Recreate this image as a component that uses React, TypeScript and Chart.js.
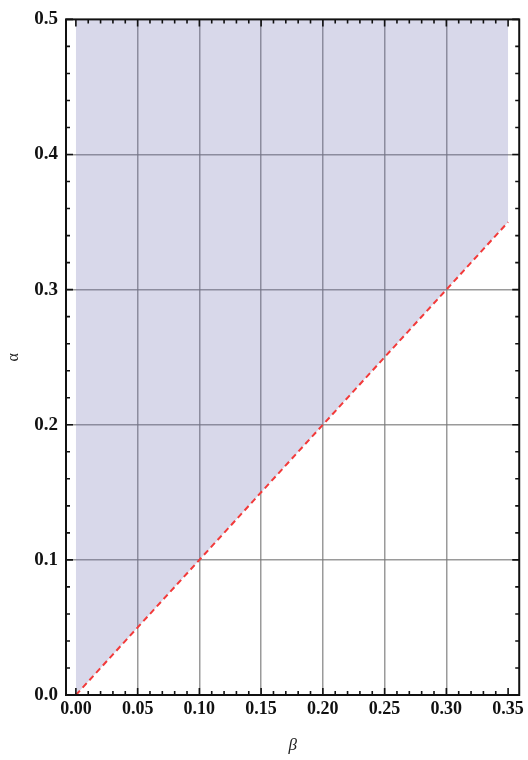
import React, { useEffect, useRef } from "react";
import { Chart, registerables } from "chart.js";

Chart.register(...registerables);

// Region boundary: alpha = beta (dashed red line), shaded above up to alpha = 0.5
const boundaryBeta = [0, 0.35];
const boundaryAlpha = [0, 0.35];
const topBeta = [0, 0.35];
const topAlpha = [0.5, 0.5];

const xMajorTicks = [0, 0.05, 0.1, 0.15, 0.2, 0.25, 0.3, 0.35];
const yMajorTicks = [0, 0.1, 0.2, 0.3, 0.4, 0.5];
const xMinorTicks = [
  0.01, 0.02, 0.03, 0.04, 0.06, 0.07, 0.08, 0.09, 0.11, 0.12, 0.13, 0.14,
  0.16, 0.17, 0.18, 0.19, 0.21, 0.22, 0.23, 0.24, 0.26, 0.27, 0.28, 0.29,
  0.31, 0.32, 0.33, 0.34,
];
const yMinorTicks = [
  0.02, 0.04, 0.06, 0.08, 0.12, 0.14, 0.16, 0.18, 0.22, 0.24, 0.26, 0.28,
  0.32, 0.34, 0.36, 0.38, 0.42, 0.44, 0.46, 0.48,
];
const xMin = -0.008;
const xMax = 0.359;
const yMin = 0;
const yMax = 0.5;

const framePlugin = {
  id: "frameTicks",
  afterDatasetsDraw(chart: any) {
    const { ctx, chartArea } = chart;
    const xs = chart.scales.x;
    const ys = chart.scales.y;
    const { left, right, top, bottom } = chartArea;
    ctx.save();
    ctx.strokeStyle = "#111";
    ctx.lineWidth = 1.6;
    const major = 7;
    const minor = 4;
    ctx.beginPath();
    const hTick = (v: number, len: number) => {
      const px = xs.getPixelForValue(v);
      ctx.moveTo(px, bottom);
      ctx.lineTo(px, bottom - len);
      ctx.moveTo(px, top);
      ctx.lineTo(px, top + len);
    };
    const vTick = (v: number, len: number) => {
      const py = ys.getPixelForValue(v);
      ctx.moveTo(left, py);
      ctx.lineTo(left + len, py);
      ctx.moveTo(right, py);
      ctx.lineTo(right - len, py);
    };
    xMajorTicks.forEach((v) => hTick(v, major));
    xMinorTicks.forEach((v) => hTick(v, minor));
    yMajorTicks.forEach((v) => vTick(v, major));
    yMinorTicks.forEach((v) => vTick(v, minor));
    ctx.stroke();
    ctx.lineWidth = 2;
    ctx.strokeRect(left, top, right - left, bottom - top);
    ctx.restore();
  },
};

export default function App() {
  const ref = useRef<HTMLCanvasElement | null>(null);
  useEffect(() => {
    document.body.style.margin = "0";
    const canvas = ref.current;
    if (!canvas) return;
    const chart = new Chart(canvas, {
      type: "scatter",
      data: {
        datasets: [
          {
            label: "top",
            data: topBeta.map((b, i) => ({ x: b, y: topAlpha[i] })),
            showLine: true,
            borderWidth: 0,
            borderColor: "rgba(0,0,0,0)",
            pointRadius: 0,
            fill: false,
          },
          {
            label: "boundary",
            data: boundaryBeta.map((b, i) => ({ x: b, y: boundaryAlpha[i] })),
            showLine: true,
            borderColor: "#f23a3a",
            borderWidth: 2,
            borderDash: [6, 4],
            pointRadius: 0,
            fill: { target: 0 },
            backgroundColor: "rgba(99,99,171,0.25)",
          },
        ],
      },
      options: {
        animation: false,
        responsive: false,
        maintainAspectRatio: false,
        layout: { padding: { top: 14, right: 6, left: 0, bottom: 0 } },
        plugins: { legend: { display: false }, tooltip: { enabled: false } },
        scales: {
          x: {
            type: "linear",
            min: xMin,
            max: xMax,
            afterBuildTicks: (s: any) => {
              s.ticks = xMajorTicks.map((v) => ({ value: v }));
            },
            afterFit: (s: any) => {
              s.height = 65;
            },
            border: { display: false },
            grid: {
              drawTicks: false,
              lineWidth: 1.5,
              color: (c: any) =>
                c.tick && (c.tick.value === 0 || c.tick.value === 0.35)
                  ? "rgba(0,0,0,0)"
                  : "rgba(120,120,120,0.75)",
            },
            ticks: {
              padding: 4,
              autoSkip: false,
              maxRotation: 0,
              color: "#111",
              font: { family: "'Liberation Serif', serif", size: 18, weight: "bold" },
              callback: (v: any) => Number(v).toFixed(2),
            },
            title: {
              display: true,
              text: "β",
              color: "#222",
              font: { family: "'Liberation Serif', serif", size: 17, style: "italic" },
            },
          },
          y: {
            type: "linear",
            min: yMin,
            max: yMax,
            afterBuildTicks: (s: any) => {
              s.ticks = yMajorTicks.map((v) => ({ value: v }));
            },
            afterFit: (s: any) => {
              s.width = 66;
            },
            border: { display: false },
            grid: {
              drawTicks: false,
              lineWidth: 1.5,
              color: (c: any) =>
                c.tick && (c.tick.value === 0 || c.tick.value === 0.5)
                  ? "rgba(0,0,0,0)"
                  : "rgba(120,120,120,0.75)",
            },
            ticks: {
              padding: 8,
              autoSkip: false,
              color: "#111",
              font: { family: "'Liberation Serif', serif", size: 19, weight: "bold" },
              callback: (v: any) => Number(v).toFixed(1),
            },
            title: {
              display: true,
              text: "α",
              color: "#222",
              font: { family: "'Liberation Serif', serif", size: 16 },
            },
          },
        },
      },
      plugins: [framePlugin],
    } as any);
    return () => chart.destroy();
  }, []);
  return (
    <div style={{ width: 528, height: 760 }}>
      <canvas ref={ref} width={528} height={760} style={{ display: "block" }} />
    </div>
  );
}
